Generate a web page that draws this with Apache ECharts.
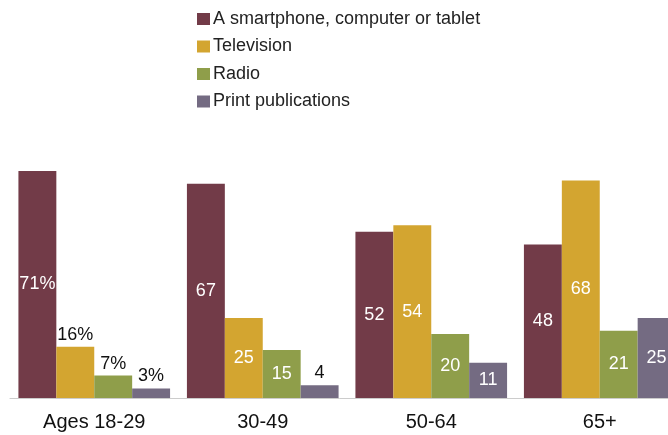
<!DOCTYPE html>
<html>
<head>
<meta charset="utf-8">
<script src="https://cdn.jsdelivr.net/npm/echarts@6/dist/echarts.min.js"></script>
<style>html,body{margin:0;padding:0;background:#fff;}#c{width:668px;height:435px;}</style>
</head>
<body>
<div id="c"></div>
<script>
const categories = ['Ages 18-29', '30-49', '50-64', '65+'];
const seriesNames = ['A smartphone, computer or tablet', 'Television', 'Radio', 'Print publications'];
const smartphone = [71, 67, 52, 48];
const television = [16, 25, 54, 68];
const radio = [7, 15, 20, 21];
const print = [3, 4, 11, 25];

const colors = ['#723b48', '#d3a530', '#8f9e4a', '#746b82'];
const values = [smartphone, television, radio, print];
// which (series, category) labels sit above the bar
const labelAbove = [[1, 0], [2, 0], [3, 0], [3, 1]];
const isAbove = (s, c) => labelAbove.some(p => p[0] === s && p[1] === c);

const FONT = 'Liberation Sans';
const series = values.map((vals, s) => ({
  name: seriesNames[s],
  type: 'bar',
  barGap: 0,
  barCategoryGap: '10%',
  itemStyle: { color: colors[s] },
  data: vals.map((v, c) => ({
    value: v,
    label: {
      show: true,
      position: isAbove(s, c) ? 'top' : 'inside',
      distance: 3,
      color: isAbove(s, c) ? '#111' : '#fff',
      fontFamily: FONT,
      fontSize: 18,
      formatter: c === 0 ? v + '%' : String(v)
    }
  }))
}));

const chart = echarts.init(document.getElementById('c'), null, { renderer: 'canvas' });
chart.setOption({
  animation: false,
  color: colors,
  legend: {
    orient: 'vertical',
    left: 192,
    top: 4,
    itemWidth: 13,
    itemHeight: 12,
    itemGap: 7.5,
    icon: 'rect',
    textStyle: { fontFamily: FONT, fontSize: 18, color: '#222', lineHeight: 20, padding: [0, 0, 0, -2] },
    data: seriesNames
  },
  grid: { left: 10, width: 674, top: 171, bottom: 37, containLabel: false, outerBoundsMode: 'none' },
  xAxis: {
    type: 'category',
    data: categories,
    axisLine: { lineStyle: { color: '#cccccc', width: 1 } },
    axisTick: { show: false },
    axisLabel: { fontFamily: FONT, fontSize: 20, color: '#111', margin: 14 }
  },
  yAxis: {
    type: 'value',
    min: 0,
    max: 71,
    show: false
  },
  series: series
});
</script>
</body>
</html>
